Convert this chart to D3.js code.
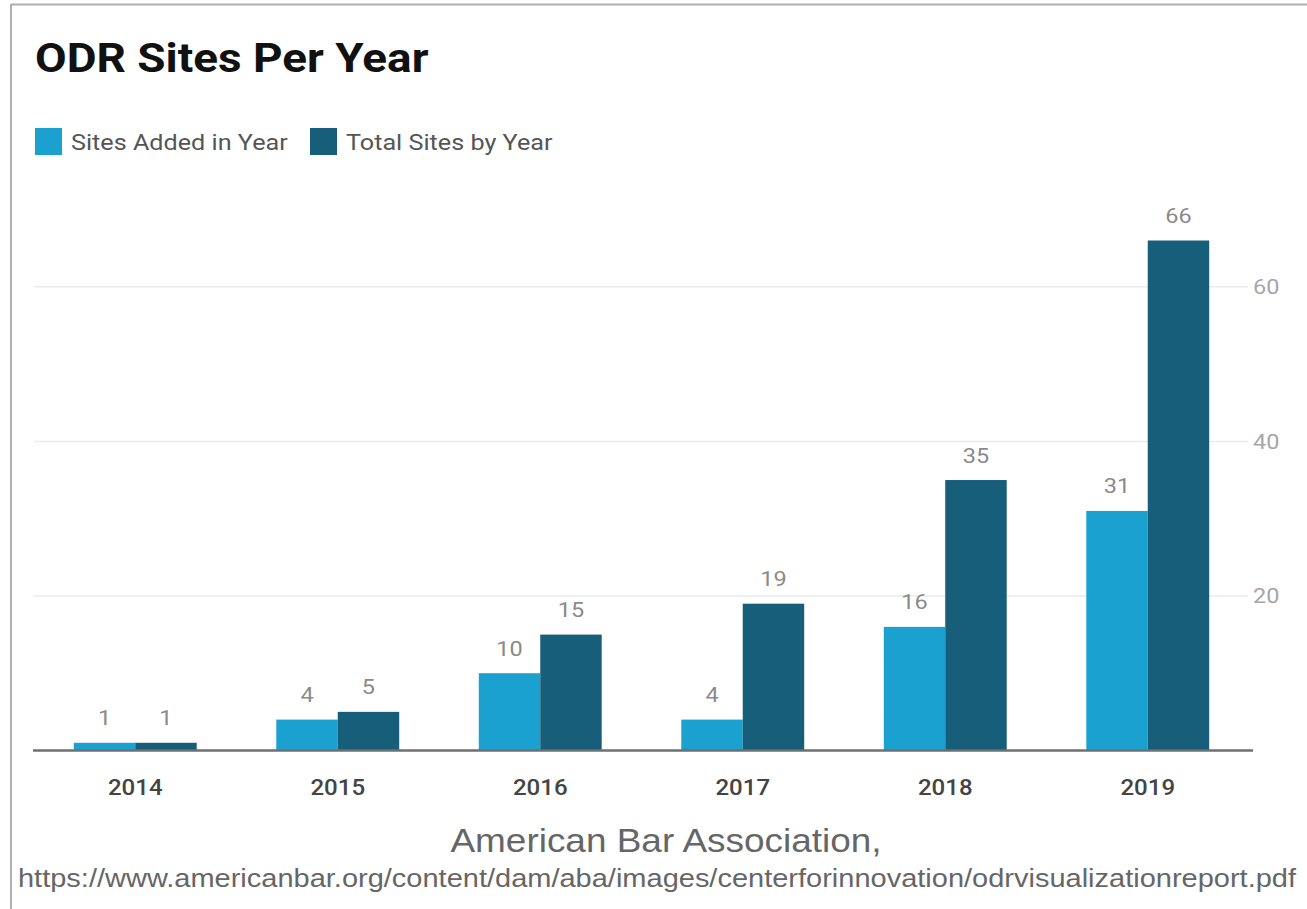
<!DOCTYPE html>
<html>
<head>
<meta charset="utf-8">
<script src="https://cdn.jsdelivr.net/npm/d3@7"></script>
<style>
  html, body { margin: 0; padding: 0; background: #fff; }
  svg { display: block; }
</style>
</head>
<body>
<svg id="chart" width="1307" height="909"></svg>
<script>
// Chart data
const years = ["2014", "2015", "2016", "2017", "2018", "2019"];
const sitesAdded = [1, 4, 10, 4, 16, 31];
const totalSites = [1, 5, 15, 19, 35, 66];
const seriesNames = ["Sites Added in Year", "Total Sites by Year"];
const yTicks = [20, 40, 60];

const colors = ["#1ba1cf", "#175e7a"];

const svg = d3.select("#chart");
const W = 1307, H = 909;
const SX = 1.12; // horizontal widening applied to all lettering

// Place a horizontally widened text at (x, y)
function label(parent, x, y, str, opts) {
  const t = parent.append("text")
    .attr("transform", `translate(${x},${y}) scale(${SX},1)`)
    .attr("font-family", opts.family || "Roboto")
    .attr("font-size", opts.size)
    .attr("fill", opts.fill)
    .attr("text-anchor", opts.anchor || "start")
    .text(str);
  if (opts.weight) t.attr("font-weight", opts.weight);
  return t;
}

// Frame around the chart card
svg.append("line").attr("x1", 11).attr("x2", W).attr("y1", 4.5).attr("y2", 4.5)
  .attr("stroke", "#b0b0b0").attr("stroke-width", 2);
svg.append("line").attr("x1", 11).attr("x2", 11).attr("y1", 4).attr("y2", H)
  .attr("stroke", "#b0b0b0").attr("stroke-width", 2);

// Title
label(svg, 35, 72, "ODR Sites Per Year", { size: 41, weight: 700, fill: "#111" });

// Legend
const legendX = [35, 310];
seriesNames.forEach((name, i) => {
  svg.append("rect").attr("x", legendX[i]).attr("y", 128)
    .attr("width", 27).attr("height", 27).attr("fill", colors[i]);
  label(svg, legendX[i] + 36, 150, name, { size: 22.5, fill: "#555" });
});

// Scales
const x0 = d3.scaleBand().domain(years).range([34, 1249]).paddingInner(0.393).paddingOuter(0.1965);
const x1 = d3.scaleBand().domain(seriesNames).range([0, x0.bandwidth()]);
const y = d3.scaleLinear().domain([0, 66]).range([750.5, 240.5]);

// Gridlines and right-side value axis
const grid = svg.append("g");
grid.selectAll("line").data(yTicks).join("line")
  .attr("x1", 34).attr("x2", 1248)
  .attr("y1", d => y(d)).attr("y2", d => y(d))
  .attr("stroke", "#ebebeb").attr("stroke-width", 1.5);
yTicks.forEach(d => label(grid, 1253, y(d) + 7.5, d, { size: 21, fill: "#a6a6a6" }));

// Bars
const rows = years.map((yr, i) => ({ year: yr, values: [sitesAdded[i], totalSites[i]] }));
const groups = svg.append("g").selectAll("g").data(rows).join("g")
  .attr("transform", d => `translate(${x0(d.year)},0)`);

groups.selectAll("rect").data(d => d.values.map((v, i) => ({ key: seriesNames[i], v, i })))
  .join("rect")
  .attr("x", d => x1(d.key))
  .attr("y", d => y(d.v))
  .attr("width", x1.bandwidth())
  .attr("height", d => y(0) - y(d.v))
  .attr("fill", d => colors[d.i]);

// Value labels above each bar
groups.each(function (row) {
  const g = d3.select(this);
  row.values.forEach((v, i) => {
    label(g, x1(seriesNames[i]) + x1.bandwidth() / 2, y(v) - 17.5, v,
      { size: 21, fill: "#8a8a8a", anchor: "middle" });
  });
});

// Baseline
svg.append("line").attr("x1", 33).attr("x2", 1253)
  .attr("y1", y(0)).attr("y2", y(0))
  .attr("stroke", "#6f6f6f").attr("stroke-width", 2.5);

// Category labels
const xLabels = svg.append("g");
years.forEach(d => label(xLabels, x0(d) + x0.bandwidth() / 2, 795, d,
  { size: 21.5, weight: 500, fill: "#444", anchor: "middle" }));

// Source credit
const credit = { family: "Liberation Sans, Arial, sans-serif", fill: "#666" };
label(svg, 666, 852, "American Bar Association,", { ...credit, size: 33, anchor: "middle" });
label(svg, 18, 887, "https://www.americanbar.org/content/dam/aba/images/centerforinnovation/odrvisualizationreport.pdf",
  { ...credit, size: 25.9 });
</script>
</body>
</html>
